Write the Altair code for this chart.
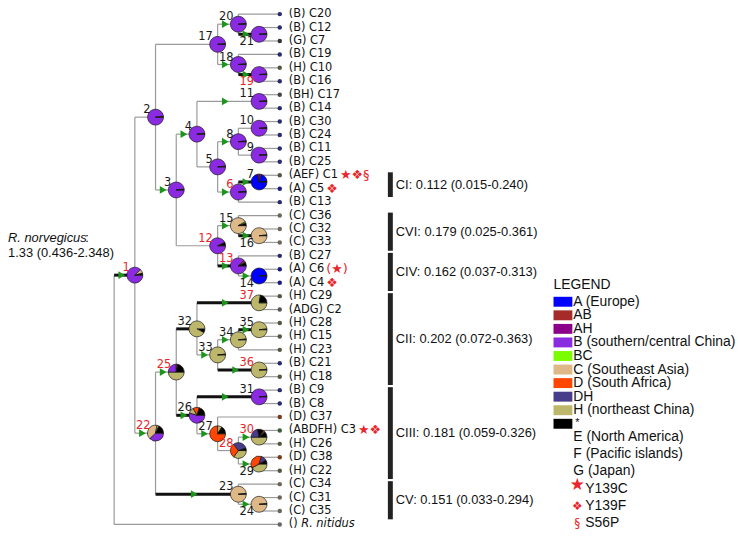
import altair as alt
import pandas as pd
import math

# ---------------- data ----------------
leaf_names = ["C20", "C12", "C7", "C19", "C10", "C16", "C17", "C14", "C30", "C24", "C11", "C25",
              "C1", "C5", "C13", "C36", "C32", "C33", "C27", "C6", "C4", "C29", "C2", "C28",
              "C15", "C23", "C21", "C18", "C9", "C8", "C37", "C3", "C26", "C38", "C22", "C34",
              "C31", "C35", "R. nitidus"]
leaf_regions = ["B", "B", "G", "B", "H", "B", "BH", "B", "B", "B", "B", "B",
                "AEF", "A", "B", "C", "C", "C", "B", "A", "A", "H", "ADG", "H",
                "H", "H", "B", "H", "B", "B", "D", "ABDFH", "H", "D", "H", "C",
                "C", "C", ""]
leaf_marks = {"C1": "★❖§", "C5": "❖", "C6": "(★)", "C4": "❖", "C3": "★❖"}

tree = {
    "root": [1, "R. nitidus"],
    1: [2, 22], 2: [17, 3], 17: [20, 18], 20: ["C20", 21], 21: ["C12", "C7"],
    18: ["C19", 19], 19: ["C10", "C16"], 3: [4, 12], 4: [11, 5], 11: ["C17", "C14"],
    5: [8, 6], 8: [10, 9], 10: ["C30", "C24"], 9: ["C11", "C25"], 6: [7, "C13"],
    7: ["C1", "C5"], 12: [15, 13], 15: ["C36", 16], 16: ["C32", "C33"],
    13: ["C27", 14], 14: ["C6", "C4"], 22: [25, 23], 25: [32, 26], 32: [37, 33],
    37: ["C29", "C2"], 33: [34, 36], 34: [35, "C23"], 35: ["C28", "C15"],
    36: ["C21", "C18"], 26: [31, 27], 31: ["C9", "C8"], 27: ["C37", 28],
    28: [30, 29], 30: ["C3", "C26"], 29: ["C38", "C22"], 23: ["C34", 24],
    24: ["C31", "C35"],
}

# ancestral-area probabilities, slices clockwise from 3 o'clock
pure_nodes = {2: "B", 3: "B", 4: "B", 5: "B", 6: "B", 8: "B", 9: "B", 10: "B", 11: "B",
              14: "A", 16: "C", 17: "B", 18: "B", 19: "B", 20: "B", 21: "B", 23: "C",
              24: "C", 31: "B", 33: "H", 34: "H", 35: "H", 36: "H"}
mixed_nodes = {
    1: [("B", .88), ("C", .08), ("*", .04)],
    7: [("A", .72), ("AH", .04), ("AB", .04), ("A", .18), ("*", .02)],
    12: [("B", .93), ("*", .07)],
    13: [("B", .88), ("AB", .05), ("*", .07)],
    15: [("C", .92), ("BC", .03), ("*", .05)],
    22: [("B", .38), ("C", .40), ("H", .04), ("*", .18)],
    25: [("H", .50), ("B", .25), ("AB", .03), ("*", .22)],
    26: [("B", .55), ("H", .12), ("D", .13), ("*", .20)],
    27: [("D", .75), ("H", .09), ("*", .16)],
    28: [("H", .35), ("D", .30), ("DH", .30), ("*", .05)],
    29: [("H", .42), ("D", .38), ("DH", .12), ("*", .08)],
    30: [("H", .50), ("DH", .22), ("*", .13), ("D", .03), ("*", .12)],
    32: [("*", .08), ("H", .92)],
    37: [("H", .78), ("*", .22)],
}
red_nodes = {1, 6, 12, 13, 19, 22, 25, 28, 30, 36, 37}
below_label_nodes = {21, 19, 16, 14, 29, 24}
thick_branches = {1, 7, 13, 16, 19, 21, 26, 32, 35, 36, 37, 31, 23}
arrow_branches = {20, 21, 18, 19, 11, 4, 8, 7, 6, 3, 15, 16, 13, 14, 1, 37, 35, 34, 33,
                  36, 25, 31, 26, 27, 22, 30, 29, 23, 24}

clade_names = ["CI", "CVI", "CIV", "CII", "CIII", "CV"]
clade_first = ["C1", "C36", "C27", "C29", "C9", "C34"]
clade_last = ["C5", "C33", "C4", "C18", "C22", "C35"]
clade_stats = ["0.112 (0.015-0.240)", "0.179 (0.025-0.361)", "0.162 (0.037-0.313)",
               "0.202 (0.072-0.363)", "0.181 (0.059-0.326)", "0.151 (0.033-0.294)"]

legend_keys = ["A", "AB", "AH", "B", "BC", "C", "D", "DH", "H", "*"]
legend_labels = ["A (Europe)", "AB", "AH", "B (southern/central China)", "BC",
                 "C (Southeast Asia)", "D (South Africa)", "DH", "H (northeast China)", "*"]
legend_extra = ["E (North America)", "F (Pacific islands)", "G (Japan)"]
mutation_symbols = ["★", "❖", "§"]
mutation_labels = ["Y139C", "Y139F", "S56P"]

root_rate = "1.33 (0.436-2.348)"

# ---------------- styles ----------------
area_colors = {"A": "#0000ff", "AB": "#a52a2a", "AH": "#8b008b", "B": "#8a2be2",
               "BC": "#7cfc00", "C": "#deb887", "D": "#ff4500", "DH": "#483d8b",
               "H": "#bdb76b", "*": "#000000"}
dot_colors = {"B": "#2a2a70", "A": "#1a1a80", "G": "#333333", "H": "#55553f",
              "C": "#6b6658", "D": "#7a3a1a", "BH": "#444444", "AEF": "#555544",
              "ADG": "#555555", "ABDFH": "#3a5a3a", "": "#666666"}
RED = "#e8262b"
STEP = 20.875            # px per tree level
X_ROOT_PX = 115
Y0_PX = 12.0             # first leaf row
ROW = (526.5 - Y0_PX) / 38
W, H = 735, 528


def px2L(px):
    return (px - X_ROOT_PX) / STEP


def px2row(py):
    return (py - Y0_PX) / ROW


xscale = alt.Scale(domain=[px2L(8), px2L(8 + W)], nice=False, zero=False)
yscale = alt.Scale(domain=[px2row(8), px2row(8 + H)], nice=False, zero=False, reverse=True)


def X(f):
    return alt.X(f, type="quantitative", scale=xscale, axis=None)


def Y(f):
    return alt.Y(f, type="quantitative", scale=yscale, axis=None)


# ---------------- tree layout ----------------
leaf_row = {n: i for i, n in enumerate(leaf_names)}


def height(n):
    if n in leaf_row:
        return 0
    return 1 + max(height(c) for c in tree[n])


ypos = {}


def gety(n):
    if n in leaf_row:
        return leaf_row[n]
    if n not in ypos:
        ypos[n] = sum(gety(c) for c in tree[n]) / len(tree[n])
    return ypos[n]


def getL(n):
    return 8 - height(n)


segs = []
arrows = []
for n, kids in tree.items():
    Ln = getL(n)
    ys = [gety(c) for c in kids]
    segs.append(dict(x=Ln, x2=Ln, y=min(ys), y2=max(ys), thick=False))
    for c in kids:
        Lc, yc = getL(c), gety(c)
        segs.append(dict(x=Ln, x2=Lc, y=yc, y2=yc, thick=(c in thick_branches)))
        if c in arrow_branches:
            arrows.append(dict(x=(Ln + Lc - 8 / STEP) / 2 + 0.06, y=yc))
seg_df = pd.DataFrame(segs)
arrow_df = pd.DataFrame(arrows)

arcs = []
for n in tree:
    if n == "root":
        continue
    parts = mixed_nodes.get(n, [(pure_nodes.get(n, "B"), .985), ("*", .015)])
    cum = 0.0
    for cat, fr in parts:
        arcs.append(dict(x=getL(n), y=gety(n),
                         t0=math.pi / 2 + 2 * math.pi * cum,
                         t1=math.pi / 2 + 2 * math.pi * (cum + fr),
                         col=area_colors[cat]))
        cum += fr
arc_df = pd.DataFrame(arcs)

node_df = pd.DataFrame([dict(x=getL(n), y=gety(n), label=str(n),
                             col=RED if n in red_nodes else "#1a1a1a",
                             below=n in below_label_nodes)
                        for n in tree if n != "root"])

dv = {"(": .390, ")": .390, " ": .318, "A": .684, "B": .686, "C": .698, "D": .770,
      "E": .632, "F": .575, "G": .775, "H": .752}
FS = 11.5


def text_w(s):
    return sum(dv.get(ch, .636) for ch in s) * FS


leaf_rows = []
mark_rows = []
for name, reg in zip(leaf_names, leaf_regions):
    r = leaf_row[name]
    if name == "R. nitidus":
        continue
    lab = f"({reg}) {name}"
    leaf_rows.append(dict(x=8, y=r, label=lab))
    if name in leaf_marks:
        mark_rows.append(dict(x=8 + (9 + text_w(lab) + 2) / STEP, y=r, label=leaf_marks[name]))
leaf_df = pd.DataFrame(leaf_rows)
mark_df = pd.DataFrame(mark_rows)
dot_df = pd.DataFrame([dict(x=8, y=leaf_row[n], col=dot_colors.get(r, "#444"))
                       for n, r in zip(leaf_names, leaf_regions)])
rn_row = leaf_row["R. nitidus"]
rn_df = pd.DataFrame([dict(x=8, y=rn_row, label="()")])
rn_it_df = pd.DataFrame([dict(x=8 + (9 + text_w("() ")) / STEP, y=rn_row, label="R. nitidus")])

# ---------------- layers ----------------
thin = alt.Chart(seg_df[~seg_df.thick]).mark_rule(color="#9a9a9a", strokeWidth=1.2).encode(
    x=X("x"), x2="x2", y=Y("y"), y2="y2")
thick = alt.Chart(seg_df[seg_df.thick]).mark_rule(color="#111111", strokeWidth=3).encode(
    x=X("x"), x2="x2", y=Y("y"), y2="y2")
arrow_layer = alt.Chart(arrow_df).mark_point(shape="triangle-right", filled=True, size=60,
                                             color="#1b961b", opacity=1, strokeWidth=0).encode(
    x=X("x"), y=Y("y"))
dots = alt.Chart(dot_df).mark_circle(size=20, opacity=1).encode(
    x=X("x"), y=Y("y"), color=alt.Color("col:N", scale=None))
pies = alt.Chart(arc_df).mark_arc(outerRadius=8, stroke="#1a1a1a", strokeWidth=0.7).encode(
    x=X("x"), y=Y("y"),
    theta=alt.Theta("t0:Q", scale=None, stack=None), theta2="t1:Q",
    color=alt.Color("col:N", scale=None))
node_above = alt.Chart(node_df[~node_df.below]).mark_text(
    align="right", baseline="middle", dx=-5, dy=-7, font="DejaVu Sans", fontSize=FS).encode(
    x=X("x"), y=Y("y"), text="label:N", color=alt.Color("col:N", scale=None))
node_below = alt.Chart(node_df[node_df.below]).mark_text(
    align="right", baseline="middle", dx=-5, dy=8, font="DejaVu Sans", fontSize=FS).encode(
    x=X("x"), y=Y("y"), text="label:N", color=alt.Color("col:N", scale=None))
leaf_text = alt.Chart(leaf_df).mark_text(
    align="left", baseline="middle", dx=9, font="DejaVu Sans", fontSize=FS, color="#111").encode(
    x=X("x"), y=Y("y"), text="label:N")
mark_text = alt.Chart(mark_df).mark_text(
    align="left", baseline="middle", font="DejaVu Sans", fontSize=13, color=RED).encode(
    x=X("x"), y=Y("y"), text="label:N")
rn_text = alt.Chart(rn_df).mark_text(
    align="left", baseline="middle", dx=9, font="DejaVu Sans", fontSize=FS, color="#111").encode(
    x=X("x"), y=Y("y"), text="label:N")
rn_it = alt.Chart(rn_it_df).mark_text(
    align="left", baseline="middle", font="DejaVu Sans", fontSize=FS, fontStyle="italic",
    color="#111").encode(x=X("x"), y=Y("y"), text="label:N")

# clade bars
cl_df = pd.DataFrame(dict(
    name=clade_names,
    y=[leaf_row[a] - 0.22 for a in clade_first],
    y2=[leaf_row[b] + 0.62 for b in clade_last],
))
cl_df["x"] = px2L(391)
cl_df["x2"] = px2L(396)
cl_df["ym"] = (cl_df.y + cl_df.y2) / 2
cl_df["label"] = [f"{a}: {b}" for a, b in zip(clade_names, clade_stats)]
cl_df["xt"] = px2L(399)
clade_bars = alt.Chart(cl_df).mark_rect(color="#222222").encode(
    x=X("x"), x2="x2", y=Y("y"), y2="y2")
clade_text = alt.Chart(cl_df).mark_text(
    align="left", baseline="middle", font="Liberation Sans", fontSize=13, color="#111").encode(
    x=X("xt"), y=Y("ym"), text="label:N")

# legend
LG_STEP = 13.67 / ROW
lg_first = px2row(302)
lg_df = pd.DataFrame(dict(label=legend_labels,
                          col=[area_colors[k] for k in legend_keys],
                          y=[lg_first + i * LG_STEP for i in range(len(legend_keys))]))
lg_df["y0"] = lg_df.y - 5 / ROW
lg_df["y1"] = lg_df.y + 5 / ROW
lg_df["x0"] = px2L(558)
lg_df["x1"] = px2L(577)
lg_df["xt"] = px2L(578)
swatches = alt.Chart(lg_df).mark_rect().encode(
    x=X("x0"), x2="x1", y=Y("y0"), y2="y1", color=alt.Color("col:N", scale=None))
lg_text = alt.Chart(lg_df[lg_df.label != "*"]).mark_text(
    align="left", baseline="middle", font="Liberation Sans", fontSize=14, color="#111").encode(
    x=X("xt"), y=Y("y"), text="label:N")
lg_star = alt.Chart(lg_df[lg_df.label == "*"]).mark_text(
    align="left", baseline="middle", dx=2, dy=-1, font="Liberation Sans", fontSize=11,
    color="#111").encode(x=X("xt"), y=Y("y"), text="label:N")
lg_title = alt.Chart(pd.DataFrame(dict(x=[px2L(558)], y=[px2row(285)], label=["LEGEND"]))).mark_text(
    align="left", baseline="middle", font="Liberation Sans", fontSize=14, color="#111").encode(
    x=X("x"), y=Y("y"), text="label:N")
EX_STEP = 17.3 / ROW
ex_first = px2row(438.5)
ex_df = pd.DataFrame(dict(label=legend_extra,
                          y=[ex_first + EX_STEP * i for i in range(len(legend_extra))]))
ex_df["x"] = px2L(578)
ex_text = alt.Chart(ex_df).mark_text(
    align="left", baseline="middle", font="Liberation Sans", fontSize=14, color="#111").encode(
    x=X("x"), y=Y("y"), text="label:N")
mu_df = pd.DataFrame(dict(sym=mutation_symbols, label=mutation_labels,
                          y=[ex_first + EX_STEP * (i + len(legend_extra)) for i in range(3)]))
mu_df["xs"] = px2L(582)
mu_df["xt"] = px2L(590)
mu_sym_big = alt.Chart(mu_df[mu_df.sym == "★"]).mark_text(
    align="center", baseline="middle", dy=-4, font="DejaVu Sans", fontSize=17, color=RED).encode(
    x=X("xs"), y=Y("y"), text="sym:N")
mu_sym = alt.Chart(mu_df[mu_df.sym != "★"]).mark_text(
    align="center", baseline="middle", font="DejaVu Sans", fontSize=12, color=RED).encode(
    x=X("xs"), y=Y("y"), text="sym:N")
mu_text = alt.Chart(mu_df).mark_text(
    align="left", baseline="middle", font="Liberation Sans", fontSize=14, color="#111").encode(
    x=X("xt"), y=Y("y"), text="label:N")

# root annotation
ann_x = px2L(8)
ann_it = alt.Chart(pd.DataFrame(dict(x=[ann_x], y=[px2row(238)], label=["R. norvegicus"]))).mark_text(
    align="left", baseline="middle", font="Liberation Sans", fontSize=13, fontStyle="italic",
    color="#111").encode(x=X("x"), y=Y("y"), text="label:N")
ann_colon = alt.Chart(pd.DataFrame(dict(x=[ann_x], y=[px2row(238)], label=[":"]))).mark_text(
    align="left", baseline="middle", dx=78, font="Liberation Sans", fontSize=13,
    color="#111").encode(x=X("x"), y=Y("y"), text="label:N")
ann_val = alt.Chart(pd.DataFrame(dict(x=[ann_x], y=[px2row(253)], label=[root_rate]))).mark_text(
    align="left", baseline="middle", font="Liberation Sans", fontSize=13,
    color="#111").encode(x=X("x"), y=Y("y"), text="label:N")

chart = alt.layer(
    thin, thick, arrow_layer, dots, pies, node_above, node_below, leaf_text, mark_text,
    rn_text, rn_it, clade_bars, clade_text, swatches, lg_text, lg_star, lg_title, ex_text,
    mu_sym_big, mu_sym, mu_text, ann_it, ann_colon, ann_val
).properties(
    width=W, height=H, padding=0,
    autosize=alt.AutoSizeParams(type="none"),
).configure_view(stroke=None)

chart.save("out.html", embed_options={"renderer": "svg", "actions": False})
